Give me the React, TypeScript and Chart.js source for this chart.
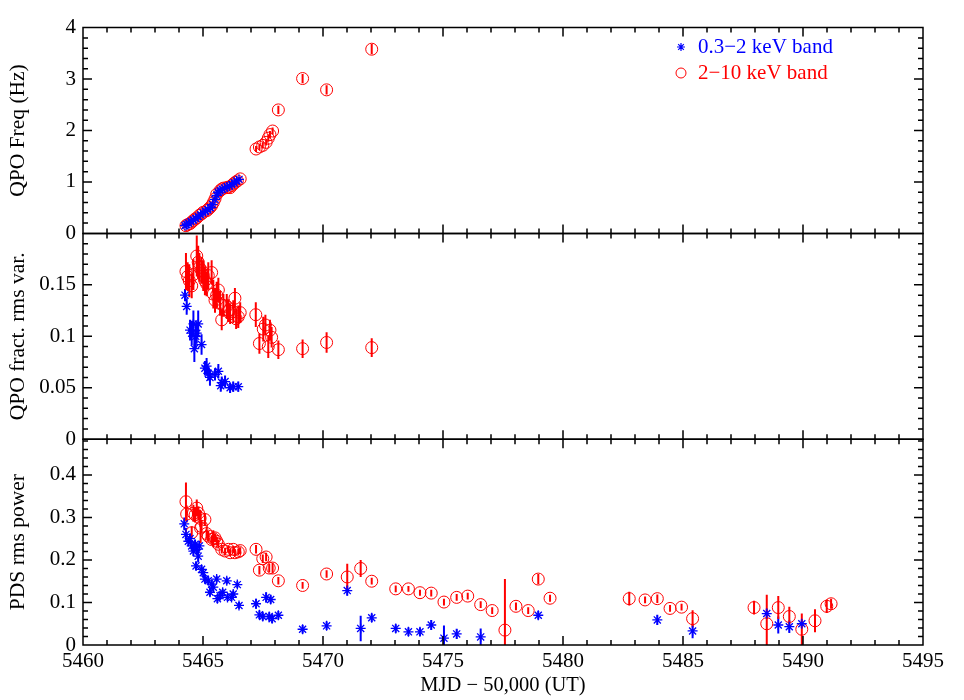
import React, { useEffect, useRef } from 'react';
import { Chart, registerables } from 'chart.js';

Chart.register(...registerables);

// ---------------- axis ticks ----------------
const xTickValues = [5460, 5465, 5470, 5475, 5480, 5485, 5490, 5495];
const xTickLabels = ['5460', '5465', '5470', '5475', '5480', '5485', '5490', '5495'];
const freqTickValues = [0, 1, 2, 3, 4];
const freqTickLabels = ['0', '1', '2', '3', '4'];
const rmsTickValues = [0, 0.05, 0.1, 0.15];
const rmsTickLabels = ['0', '0.05', '0.1', '0.15'];
const pdsTickValues = [0, 0.1, 0.2, 0.3, 0.4];
const pdsTickLabels = ['0', '0.1', '0.2', '0.3', '0.4'];

const legendLabels = ['0.3\u22122 keV band', '2\u221210 keV band'];

// ---------------- panel 1: QPO frequency ----------------
const freqSoftX = [5464.25, 5464.32, 5464.4, 5464.5, 5464.6, 5464.7, 5464.8, 5464.9, 5465.0, 5465.1, 5465.2, 5465.3, 5465.4, 5465.5, 5465.57, 5465.64, 5465.71, 5465.8, 5465.9, 5466.0, 5466.1, 5466.2, 5466.3, 5466.4, 5466.5];
const freqSoftY = [0.15, 0.17, 0.2, 0.23, 0.26, 0.29, 0.33, 0.36, 0.4, 0.43, 0.46, 0.5, 0.56, 0.66, 0.74, 0.8, 0.83, 0.86, 0.88, 0.9, 0.92, 0.95, 0.98, 1.02, 1.05];
const freqSoftErr = [0.02, 0.02, 0.02, 0.02, 0.02, 0.02, 0.02, 0.02, 0.02, 0.02, 0.02, 0.02, 0.02, 0.02, 0.02, 0.02, 0.02, 0.02, 0.02, 0.02, 0.02, 0.02, 0.02, 0.02, 0.02];

const freqHardX = [5464.29, 5464.36, 5464.46, 5464.53, 5464.6, 5464.67, 5464.74, 5464.85, 5464.94, 5465.01, 5465.15, 5465.22, 5465.29, 5465.36, 5465.43, 5465.5, 5465.57, 5465.71, 5465.78, 5465.85, 5465.99, 5466.06, 5466.13, 5466.2, 5466.26, 5466.34, 5466.43, 5466.55, 5467.21, 5467.35, 5467.49, 5467.63, 5467.72, 5467.79, 5467.9, 5468.14, 5469.15, 5470.15, 5472.03];
const freqHardY = [0.15, 0.17, 0.19, 0.22, 0.25, 0.28, 0.3, 0.35, 0.38, 0.41, 0.44, 0.47, 0.5, 0.54, 0.6, 0.67, 0.76, 0.83, 0.86, 0.88, 0.89, 0.9, 0.89, 0.93, 0.96, 0.99, 1.02, 1.06, 1.64, 1.68, 1.71, 1.77, 1.85, 1.92, 1.99, 2.4, 3.01, 2.79, 3.58];
const freqHardErr = [0.04, 0.04, 0.04, 0.04, 0.04, 0.04, 0.04, 0.04, 0.04, 0.04, 0.04, 0.04, 0.04, 0.04, 0.04, 0.04, 0.04, 0.04, 0.04, 0.04, 0.04, 0.04, 0.04, 0.04, 0.04, 0.04, 0.04, 0.04, 0.06, 0.06, 0.06, 0.06, 0.07, 0.07, 0.07, 0.08, 0.09, 0.09, 0.1];

// ---------------- panel 2: QPO fractional rms ----------------
const rmsSoftX = [5464.25, 5464.32, 5464.46, 5464.53, 5464.6, 5464.64, 5464.7, 5464.74, 5464.8, 5464.94, 5465.08, 5465.15, 5465.22, 5465.29, 5465.5, 5465.64, 5465.74, 5465.78, 5465.92, 5466.13, 5466.26, 5466.47];
const rmsSoftY = [0.14, 0.129, 0.106, 0.103, 0.112, 0.088, 0.1, 0.103, 0.112, 0.092, 0.069, 0.071, 0.064, 0.06, 0.063, 0.066, 0.052, 0.055, 0.056, 0.05, 0.051, 0.051];
const rmsSoftErr = [0.006, 0.008, 0.01, 0.012, 0.013, 0.013, 0.012, 0.01, 0.013, 0.01, 0.007, 0.008, 0.007, 0.008, 0.006, 0.007, 0.006, 0.006, 0.006, 0.005, 0.005, 0.005];

const rmsHardX = [5464.29, 5464.36, 5464.43, 5464.53, 5464.6, 5464.74, 5464.8, 5464.85, 5464.94, 5465.01, 5465.08, 5465.15, 5465.22, 5465.36, 5465.43, 5465.5, 5465.57, 5465.64, 5465.71, 5465.78, 5465.85, 5465.99, 5466.06, 5466.13, 5466.26, 5466.33, 5466.38, 5466.47, 5466.55, 5467.2, 5467.35, 5467.51, 5467.6, 5467.72, 5467.79, 5467.86, 5468.14, 5469.15, 5470.15, 5472.03];
const rmsHardY = [0.163, 0.158, 0.154, 0.149, 0.16, 0.178, 0.172, 0.167, 0.164, 0.159, 0.154, 0.151, 0.159, 0.162, 0.141, 0.135, 0.14, 0.145, 0.132, 0.116, 0.13, 0.129, 0.125, 0.122, 0.124, 0.137, 0.117, 0.119, 0.123, 0.121, 0.093, 0.107, 0.111, 0.09, 0.106, 0.099, 0.087, 0.088, 0.094, 0.089];
const rmsHardErr = [0.018, 0.014, 0.016, 0.012, 0.015, 0.02, 0.016, 0.014, 0.013, 0.015, 0.014, 0.012, 0.013, 0.012, 0.014, 0.012, 0.013, 0.012, 0.012, 0.01, 0.011, 0.012, 0.011, 0.01, 0.011, 0.01, 0.01, 0.011, 0.01, 0.012, 0.01, 0.012, 0.01, 0.011, 0.01, 0.01, 0.009, 0.009, 0.01, 0.009];

// ---------------- panel 3: PDS rms power ----------------
const pdsSoftX = [5464.22, 5464.29, 5464.39, 5464.46, 5464.53, 5464.6, 5464.67, 5464.71, 5464.74, 5464.8, 5464.85, 5464.94, 5465.01, 5465.08, 5465.22, 5465.29, 5465.36, 5465.43, 5465.57, 5465.6, 5465.71, 5465.82, 5465.99, 5466.02, 5466.19, 5466.26, 5466.43, 5466.5, 5467.21, 5467.35, 5467.49, 5467.63, 5467.76, 5467.82, 5467.88, 5468.14, 5469.15, 5470.15, 5471.01, 5471.57, 5472.03, 5473.03, 5473.56, 5474.04, 5474.51, 5475.04, 5475.57, 5476.57, 5478.97, 5483.93, 5485.4, 5488.49, 5488.97, 5489.43, 5489.95];
const pdsSoftY = [0.285, 0.26, 0.244, 0.25, 0.233, 0.221, 0.237, 0.186, 0.225, 0.209, 0.233, 0.178, 0.17, 0.155, 0.151, 0.124, 0.143, 0.136, 0.155, 0.109, 0.116, 0.124, 0.151, 0.112, 0.112, 0.12, 0.142, 0.093, 0.097, 0.071, 0.067, 0.112, 0.067, 0.107, 0.062, 0.07, 0.037, 0.045, 0.128, 0.039, 0.064, 0.039, 0.031, 0.031, 0.047, 0.016, 0.026, 0.019, 0.07, 0.059, 0.033, 0.074, 0.047, 0.043, 0.05];
const pdsSoftErr = [0.015, 0.015, 0.012, 0.012, 0.012, 0.012, 0.01, 0.01, 0.012, 0.015, 0.012, 0.01, 0.01, 0.01, 0.01, 0.01, 0.01, 0.01, 0.008, 0.01, 0.01, 0.008, 0.008, 0.008, 0.008, 0.008, 0.008, 0.008, 0.012, 0.01, 0.01, 0.012, 0.01, 0.01, 0.01, 0.01, 0.01, 0.01, 0.012, 0.03, 0.01, 0.01, 0.01, 0.01, 0.012, 0.03, 0.012, 0.02, 0.01, 0.012, 0.017, 0.012, 0.02, 0.015, 0.01];

const pdsHardX = [5464.29, 5464.32, 5464.53, 5464.6, 5464.67, 5464.74, 5464.81, 5464.88, 5464.9, 5464.94, 5465.08, 5465.15, 5465.22, 5465.36, 5465.43, 5465.5, 5465.57, 5465.64, 5465.78, 5465.92, 5466.06, 5466.13, 5466.26, 5466.33, 5466.47, 5466.55, 5467.21, 5467.35, 5467.49, 5467.63, 5467.76, 5467.9, 5468.14, 5469.15, 5470.15, 5471.01, 5471.57, 5472.03, 5473.03, 5473.56, 5474.04, 5474.51, 5475.04, 5475.57, 5476.03, 5476.57, 5477.05, 5477.58, 5478.04, 5478.55, 5478.97, 5479.46, 5482.76, 5483.42, 5483.93, 5484.46, 5484.94, 5485.4, 5487.96, 5488.49, 5488.97, 5489.43, 5489.95, 5490.5, 5490.99, 5491.17];
const pdsHardY = [0.337, 0.308, 0.264, 0.31, 0.306, 0.322, 0.31, 0.298, 0.275, 0.279, 0.295, 0.262, 0.256, 0.248, 0.25, 0.252, 0.244, 0.237, 0.225, 0.221, 0.225, 0.217, 0.225, 0.217, 0.219, 0.222, 0.225, 0.176, 0.203, 0.207, 0.181, 0.181, 0.151, 0.14, 0.167, 0.16, 0.18, 0.15, 0.132, 0.132, 0.123, 0.122, 0.101, 0.112, 0.115, 0.095, 0.081, 0.035, 0.091, 0.081, 0.155, 0.11, 0.109, 0.106, 0.109, 0.086, 0.089, 0.062, 0.088, 0.05, 0.088, 0.067, 0.037, 0.057, 0.091, 0.097];
const pdsHardErr = [0.045, 0.02, 0.015, 0.02, 0.018, 0.02, 0.016, 0.02, 0.035, 0.015, 0.015, 0.012, 0.012, 0.01, 0.02, 0.01, 0.01, 0.01, 0.01, 0.008, 0.008, 0.008, 0.008, 0.008, 0.008, 0.008, 0.01, 0.01, 0.01, 0.01, 0.01, 0.012, 0.009, 0.008, 0.009, 0.031, 0.02, 0.008, 0.008, 0.007, 0.007, 0.008, 0.008, 0.008, 0.008, 0.008, 0.008, 0.12, 0.009, 0.008, 0.012, 0.008, 0.016, 0.008, 0.01, 0.008, 0.008, 0.02, 0.016, 0.068, 0.027, 0.023, 0.037, 0.027, 0.016, 0.012];

// ---------------- styling ----------------
const SERIF = "'Liberation Serif', 'DejaVu Serif', serif";
const RED = '#ff0000';
const BLUE = '#0000ff';

const PANELS = [
  { id: 'yF', minor: 0.2, ratio: 5 },
  { id: 'yR', minor: 0.01, ratio: 5 },
  { id: 'yP', minor: 0.02, ratio: 5 },
];

function pts(xs: number[], ys: number[], es: number[]) {
  return xs.map((x, i) => ({ x, y: ys[i], e: es[i] }));
}

const errorBarPlugin = {
  id: 'errorBars',
  beforeDatasetsDraw(chart: any) {
    const { ctx, chartArea } = chart;
    const xs = chart.scales.x;
    chart.data.datasets.forEach((ds: any) => {
      const ys = chart.scales[ds.yAxisID];
      ctx.save();
      ctx.beginPath();
      ctx.rect(chartArea.left, ys.top, chartArea.right - chartArea.left, ys.bottom - ys.top);
      ctx.clip();
      ctx.strokeStyle = ds.borderColor;
      ctx.lineWidth = 2;
      ctx.beginPath();
      ds.data.forEach((p: any) => {
        const px = xs.getPixelForValue(p.x);
        ctx.moveTo(px, ys.getPixelForValue(p.y - p.e));
        ctx.lineTo(px, ys.getPixelForValue(p.y + p.e));
      });
      ctx.stroke();
      ctx.restore();
    });
  },
};

const framePlugin = {
  id: 'frames',
  afterDatasetsDraw(chart: any) {
    const { ctx, chartArea } = chart;
    const { left, right } = chartArea;
    const xs = chart.scales.x;
    ctx.save();
    ctx.strokeStyle = '#000';
    ctx.lineWidth = 1.5;
    const seg = (x1: number, y1: number, x2: number, y2: number) => {
      ctx.moveTo(x1, y1);
      ctx.lineTo(x2, y2);
    };
    PANELS.forEach((p) => {
      const ys = chart.scales[p.id];
      const top = ys.top;
      const bottom = ys.bottom;
      ctx.beginPath();
      ctx.rect(left, top, right - left, bottom - top);
      const xmin = xs.min, xmax = xs.max;
      for (let v = xmin; v <= xmax; v += 1) {
        const px = xs.getPixelForValue(v);
        const len = v % 5 === 0 ? 9 : 5;
        seg(px, bottom, px, bottom - len);
        seg(px, top, px, top + len);
      }
      const n = Math.floor(ys.max / p.minor + 1e-6);
      for (let i = 0; i <= n; i++) {
        const py = ys.getPixelForValue(i * p.minor);
        const len = i % p.ratio === 0 ? 9 : 5;
        seg(left, py, left + len, py);
        seg(right, py, right - len, py);
      }
      ctx.stroke();
    });
    ctx.restore();
  },
};

function drawStar(ctx: CanvasRenderingContext2D, x: number, y: number, r: number) {
  const d = Math.cos(Math.PI / 4) * r;
  ctx.moveTo(x - r, y); ctx.lineTo(x + r, y);
  ctx.moveTo(x, y - r); ctx.lineTo(x, y + r);
  ctx.moveTo(x - d, y - d); ctx.lineTo(x + d, y + d);
  ctx.moveTo(x - d, y + d); ctx.lineTo(x + d, y - d);
}

const legendPlugin = {
  id: 'customLegend',
  afterDraw(chart: any) {
    const { ctx } = chart;
    ctx.save();
    ctx.font = `21px ${SERIF}`;
    ctx.textBaseline = 'middle';
    ctx.textAlign = 'left';
    ctx.strokeStyle = BLUE;
    ctx.lineWidth = 1.2;
    ctx.beginPath();
    drawStar(ctx, 673, 39, 4);
    ctx.stroke();
    ctx.fillStyle = BLUE;
    ctx.fillText(legendLabels[0], 690, 39);
    ctx.strokeStyle = RED;
    ctx.lineWidth = 1;
    ctx.beginPath();
    ctx.arc(673, 65, 5, 0, Math.PI * 2);
    ctx.stroke();
    ctx.fillStyle = RED;
    ctx.fillText(legendLabels[1], 690, 65);
    ctx.restore();
  },
};

function yAxis(min: number, max: number, vals: number[], labels: string[], title: string) {
  return {
    type: 'linear',
    position: 'left',
    stack: 'panels',
    stackWeight: 1,
    min,
    max,
    grid: { display: false, drawTicks: false, tickLength: 0 },
    border: { display: false },
    ticks: {
      padding: 7,
      color: '#000',
      font: { family: SERIF, size: 21 },
      callback: (v: number) => {
        const i = vals.findIndex((t) => Math.abs(t - v) < 1e-9);
        return i >= 0 ? labels[i] : '';
      },
    },
    afterBuildTicks: (s: any) => {
      s.ticks = vals.map((v) => ({ value: v }));
    },
    afterFit: (s: any) => {
      s.width = 75;
    },
    title: {
      display: true,
      text: title,
      color: '#000',
      font: { family: SERIF, size: 21.5, lineHeight: 1 },
      padding: { top: 0, bottom: 0 },
    },
  };
}

export default function App() {
  const ref = useRef<HTMLCanvasElement | null>(null);

  useEffect(() => {
    if (!ref.current) return;
    const star = { pointStyle: 'star', pointRadius: 5, pointBorderWidth: 1.3, borderColor: BLUE, backgroundColor: BLUE, pointBackgroundColor: BLUE, pointBorderColor: BLUE, showLine: false };
    const circ = { pointStyle: 'circle', pointRadius: 6, pointBorderWidth: 1, borderColor: RED, backgroundColor: 'rgba(0,0,0,0)', pointBackgroundColor: 'rgba(0,0,0,0)', pointBorderColor: RED, showLine: false };
    const chart = new Chart(ref.current, {
      type: 'scatter',
      data: {
        datasets: [
          { label: 'freq soft', yAxisID: 'yF', data: pts(freqSoftX, freqSoftY, freqSoftErr), ...star },
          { label: 'rms soft', yAxisID: 'yR', data: pts(rmsSoftX, rmsSoftY, rmsSoftErr), ...star },
          { label: 'pds soft', yAxisID: 'yP', data: pts(pdsSoftX, pdsSoftY, pdsSoftErr), ...star },
          { label: 'freq hard', yAxisID: 'yF', data: pts(freqHardX, freqHardY, freqHardErr), ...circ },
          { label: 'rms hard', yAxisID: 'yR', data: pts(rmsHardX, rmsHardY, rmsHardErr), ...circ },
          { label: 'pds hard', yAxisID: 'yP', data: pts(pdsHardX, pdsHardY, pdsHardErr), ...circ },
        ] as any,
      },
      options: {
        animation: false,
        responsive: true,
        maintainAspectRatio: false,
        layout: { padding: { top: 12, right: 33, bottom: 0, left: 0 } },
        plugins: { legend: { display: false }, tooltip: { enabled: false } },
        scales: {
          x: {
            type: 'linear',
            position: 'bottom',
            min: 5460,
            max: 5495,
            grid: { display: false, drawTicks: false, tickLength: 0 },
            border: { display: false },
            ticks: {
              padding: 4,
              color: '#000',
              maxRotation: 0,
              font: { family: SERIF, size: 21 },
              callback: (v: number) => {
                const i = xTickValues.indexOf(v);
                return i >= 0 ? xTickLabels[i] : '';
              },
            },
            afterBuildTicks: (s: any) => {
              s.ticks = xTickValues.map((v) => ({ value: v }));
            },
            afterFit: (s: any) => {
              s.height = 55;
            },
            title: {
              display: true,
              text: 'MJD \u2212 50,000 (UT)',
              color: '#000',
              font: { family: SERIF, size: 20.5, lineHeight: 1.2 },
              padding: { top: 0, bottom: 2 },
            },
          },
          // stacked panels: Chart.js places the last-defined left axis at the top
          yP: yAxis(0, 0.484, pdsTickValues, pdsTickLabels, 'PDS rms power'),
          yR: yAxis(0, 0.2, rmsTickValues, rmsTickLabels, 'QPO fract. rms var.'),
          yF: yAxis(0, 4, freqTickValues, freqTickLabels, 'QPO Freq (Hz)'),
        } as any,
      },
      plugins: [errorBarPlugin, framePlugin, legendPlugin],
    });
    return () => chart.destroy();
  }, []);

  return (
    <div style={{ width: 948, height: 692, position: 'relative' }}>
      <canvas ref={ref} />
    </div>
  );
}
